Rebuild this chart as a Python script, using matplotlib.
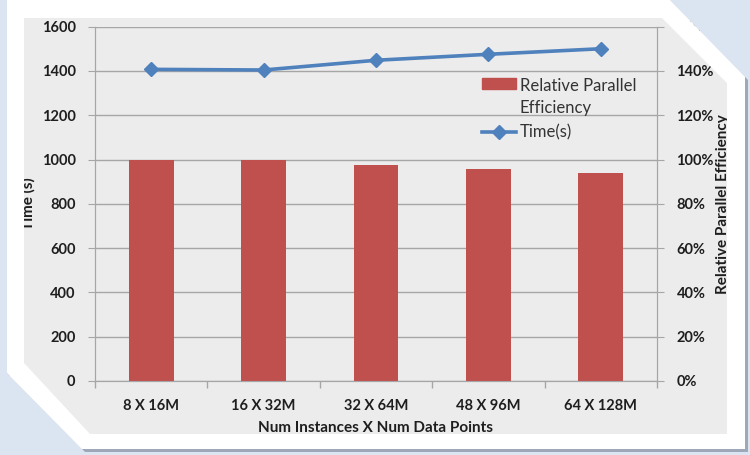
import matplotlib

matplotlib.use('Agg')
import matplotlib.pyplot as plt
from matplotlib.path import Path
from matplotlib.patches import PathPatch, Patch
from matplotlib.lines import Line2D
from matplotlib.ticker import FuncFormatter

W, H = 750, 455

CATEGORIES = ['8 X 16M', '16 X 32M', '32 X 64M', '48 X 96M', '64 X 128M']
TIME_S = [1407, 1404, 1448, 1475, 1500]
EFFICIENCY = [1.000, 1.000, 0.973, 0.958, 0.940]

BAR_COLOR = '#c0504d'
LINE_COLOR = '#4f81bd'
GRID_COLOR = '#a6a6a6'
TEXT_COLOR = '#1e1e1e'

# outline of the panel, in pixels from the top-left corner
WHITE_PANEL = [(7, -10), (660, -10), (745, 77), (745, 449), (82, 449), (7, 373)]
GRAY_PANEL = [(24, 18), (662, 18), (727, 83), (727, 434), (90, 434), (24, 363)]
FULL = [(-5, -5), (W + 5, -5), (W + 5, H + 5), (-5, H + 5)]

plt.rcParams['font.family'] = ['Lato', 'DejaVu Sans']


def to_fig(pts, dx=0, dy=0):
    return [((x + dx) / W, 1 - (y + dy) / H) for x, y in pts]


def area(pts):
    s = 0.0
    for i in range(len(pts)):
        x1, y1 = pts[i]
        x2, y2 = pts[(i + 1) % len(pts)]
        s += x1 * y2 - x2 * y1
    return s / 2


def ring(outer, inner):
    # outer polygon with inner polygon cut out (opposite winding)
    if (area(outer) > 0) == (area(inner) > 0):
        inner = inner[::-1]
    verts, codes = [], []
    for poly in (outer, inner):
        verts += poly + [poly[0]]
        codes += [Path.MOVETO] + [Path.LINETO] * (len(poly) - 1) + [Path.CLOSEPOLY]
    return Path(verts, codes)


fig = plt.figure(figsize=(W / 100, H / 100), dpi=100)
fig.patch.set_facecolor('#ececec')

ax = fig.add_axes([95 / W, 1 - 381 / H, (657 - 95) / W, (381 - 26.6) / H])
ax.set_facecolor('none')
ax2 = ax.twinx()

x = range(len(CATEGORIES))
bars = ax2.bar(x, EFFICIENCY, width=0.4, color=BAR_COLOR, zorder=2)
line, = ax.plot(x, TIME_S, color=LINE_COLOR, lw=2.6, marker='D', ms=7, zorder=3)

ax.set_xlim(-0.5, len(CATEGORIES) - 0.5)
ax.set_ylim(0, 1600)
ax2.set_ylim(0, 1.6)
ax.set_yticks(range(0, 1601, 200))
ax2.set_yticks([i / 10 for i in range(0, 17, 2)])
ax2.yaxis.set_major_formatter(FuncFormatter(lambda v, _: f'{v * 100:.0f}%'))

ax.set_xticks(list(x))
ax.set_xticklabels(CATEGORIES)
ax.set_xticks([i - 0.5 for i in range(len(CATEGORIES) + 1)], minor=True)
ax.tick_params(axis='x', which='major', length=0, pad=13)
ax.tick_params(axis='x', which='minor', length=5, color=GRID_COLOR, width=1)
ax.tick_params(axis='y', length=5, color=GRID_COLOR, pad=9)
ax2.tick_params(axis='y', length=5, color=GRID_COLOR, pad=9)
for a in (ax, ax2):
    a.tick_params(labelsize=10.5, labelcolor=TEXT_COLOR)
    for lbl in a.get_xticklabels() + a.get_yticklabels():
        lbl.set_fontweight('bold')
    for side in ('left', 'right', 'bottom'):
        a.spines[side].set_color(GRID_COLOR)
    a.spines['top'].set_visible(False)

ax.grid(axis='y', color=GRID_COLOR, lw=1)
ax.set_axisbelow(True)

fig.text(28 / W, 1 - 204 / H, 'Time (s)', rotation=90, ha='center', va='center',
         fontsize=11, fontweight='bold', color=TEXT_COLOR)
fig.text(723 / W, 1 - 204 / H, 'Relative Parallel Efficiency', rotation=90,
         ha='center', va='center', fontsize=11, fontweight='bold', color=TEXT_COLOR)
fig.text(376 / W, 1 - 428 / H, 'Num Instances X Num Data Points', ha='center',
         va='center', fontsize=11, fontweight='bold', color=TEXT_COLOR)

handles = [Patch(color=BAR_COLOR),
           Line2D([], [], color=LINE_COLOR, lw=2.6, marker='D', ms=7)]
leg = ax2.legend(handles, ['Relative Parallel\nEfficiency', 'Time(s)'],
                 loc='upper left', bbox_to_anchor=(474 / W, 1 - 70 / H),
                 bbox_transform=fig.transFigure, frameon=False, fontsize=12,
                 handlelength=2.0, handleheight=0.6, handletextpad=0.25,
                 labelspacing=0.55, borderpad=0)
for t in leg.get_texts():
    t.set_color('#333333')
    t.set_linespacing(1.4)
leg._legend_handle_box.get_children()[0].get_children()[0].align = 'top'

# panel border and background drawn over the chart edges
blue = PathPatch(ring(to_fig(FULL), to_fig(WHITE_PANEL)), facecolor='#dbe5f1',
                 edgecolor='none', transform=fig.transFigure, zorder=10)
shadow = PathPatch(ring(to_fig(WHITE_PANEL, 3, 3), to_fig(WHITE_PANEL)),
                   facecolor='#9ea8b8', edgecolor='none', transform=fig.transFigure, zorder=11)
white = PathPatch(ring(to_fig(WHITE_PANEL), to_fig(GRAY_PANEL)), facecolor='white',
                  edgecolor='none', transform=fig.transFigure, zorder=12)
for p in (blue, shadow, white):
    fig.add_artist(p)

fig.savefig('out.png', dpi=100, facecolor=fig.get_facecolor())
